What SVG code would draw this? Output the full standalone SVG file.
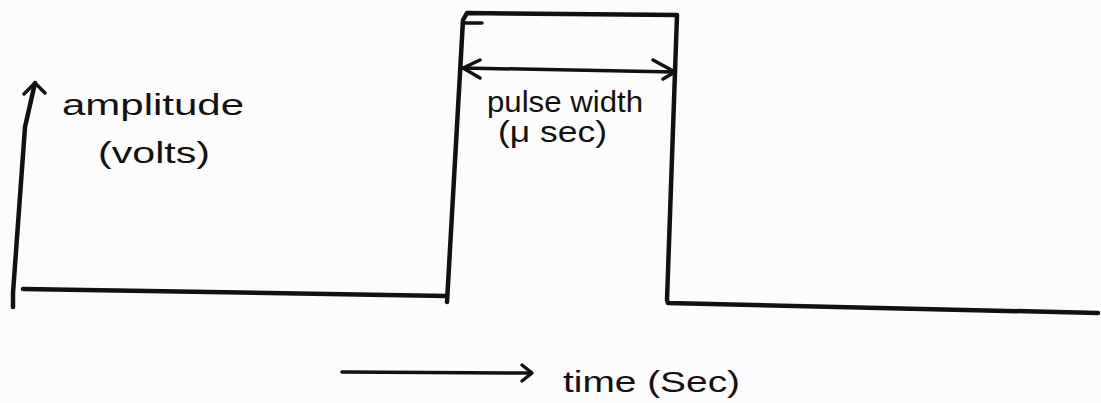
<svg xmlns="http://www.w3.org/2000/svg" width="1101" height="403" viewBox="0 0 1101 403">
<style>
.ln{fill:none;stroke:#111;stroke-width:4.5;stroke-linecap:round;stroke-linejoin:round}
.th{fill:none;stroke:#111;stroke-width:3.5;stroke-linecap:round;stroke-linejoin:round}
.t{font-family:"Liberation Sans",Arial,sans-serif;fill:#111;font-size:30px}
</style>
<rect width="1101" height="403" fill="#fdfcfc"/>
<g id="y-axis">
<path class="ln" d="M13,307 L13,293 L25,127 L35,83"/>
<path class="th" d="M24,94 L35,83 L45,93"/>
</g>
<g id="waveform">
<path class="ln" d="M23,289 L446,296"/>
<path class="ln" d="M447,302 L463,20 L467,13 L677,15 L667,300 L668,303 L1098,313"/>
<path class="th" d="M465,23 L482,23"/>
</g>
<g id="connectors">
<path class="th" d="M463,68 L675,72"/>
<path class="th" d="M480,60 L463,68 L480,78"/>
<path class="th" d="M653,60 L675,72 L663,79"/>
<path class="th" d="M342,372 L530,373"/>
<path class="th" d="M522,365 L532,373 L522,381"/>
</g>
<g id="labels">
<text class="t" x="62" y="115" textLength="182" lengthAdjust="spacingAndGlyphs">amplitude</text>
<text class="t" x="98" y="163" textLength="112" lengthAdjust="spacingAndGlyphs">(volts)</text>
<text class="t" x="487" y="112" font-size="26" textLength="156" lengthAdjust="spacingAndGlyphs">pulse width</text>
<text class="t" x="498" y="142" font-size="26" textLength="109" lengthAdjust="spacingAndGlyphs">(μ sec)</text>
<text class="t" x="563" y="392" font-size="34" textLength="177" lengthAdjust="spacingAndGlyphs">time (Sec)</text>
</g>
</svg>
